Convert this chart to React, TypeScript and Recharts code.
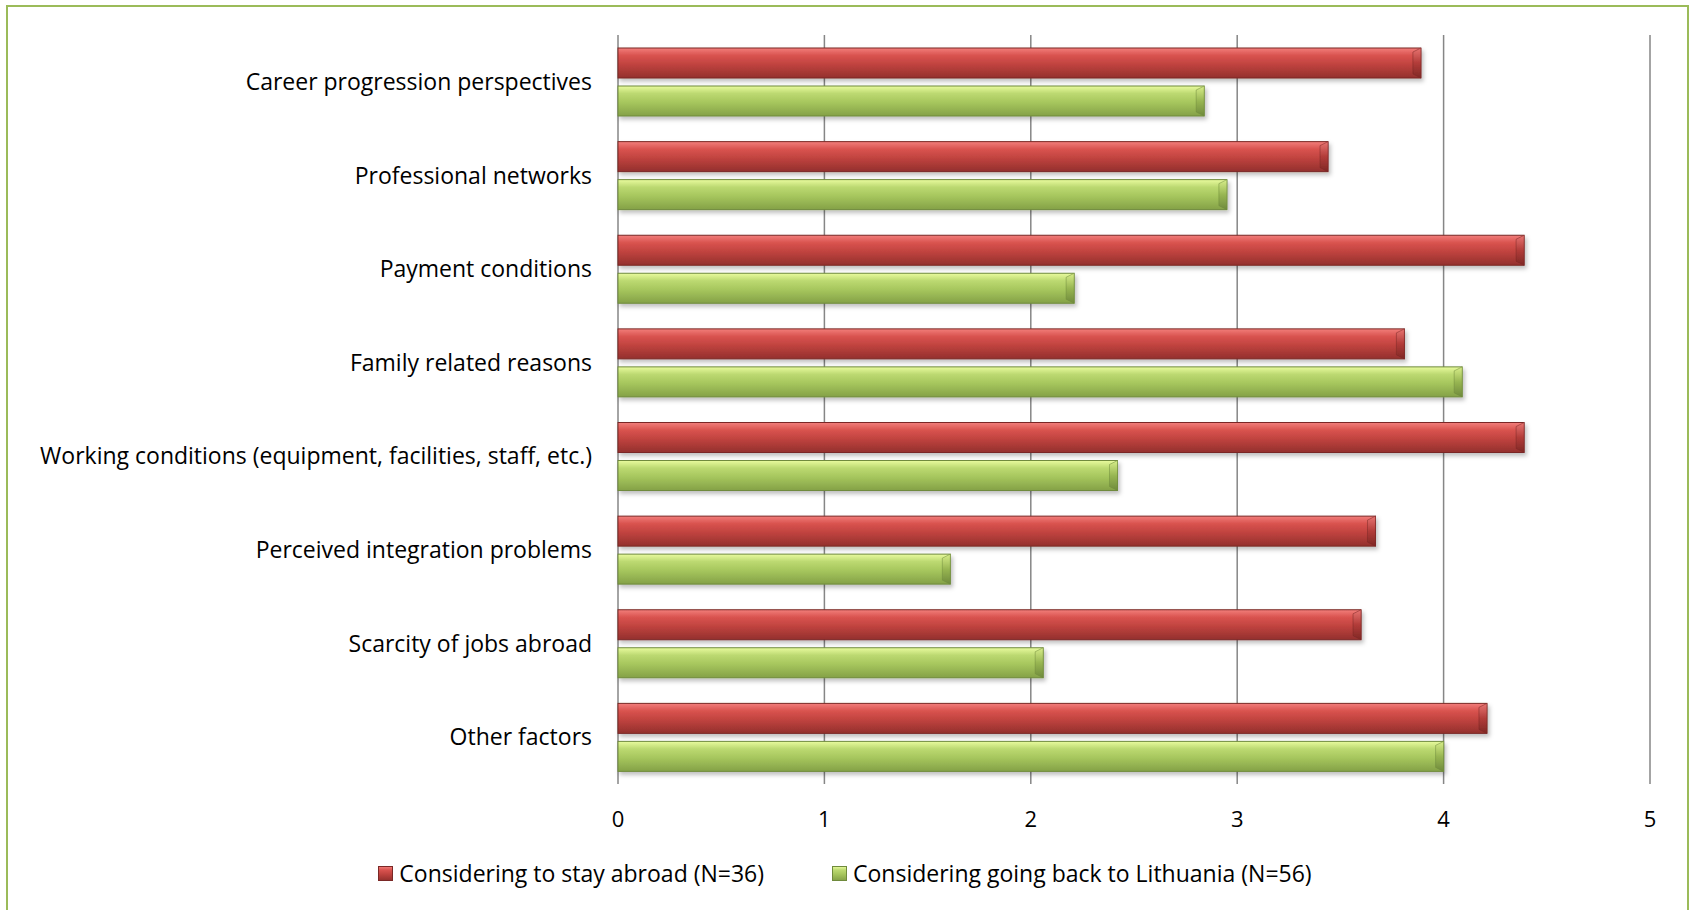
import React from "react";
import { BarChart, Bar, XAxis, YAxis, CartesianGrid, Legend } from "recharts";

const categories = [
  "Career progression perspectives",
  "Professional networks",
  "Payment conditions",
  "Family related reasons",
  "Working conditions (equipment, facilities, staff, etc.)",
  "Perceived integration problems",
  "Scarcity of jobs abroad",
  "Other factors",
];
const stayAbroad = [3.89, 3.44, 4.39, 3.81, 4.39, 3.67, 3.6, 4.21];
const goingBack = [2.84, 2.95, 2.21, 4.09, 2.42, 1.61, 2.06, 4.0];
const xTicks = [0, 1, 2, 3, 4, 5];

const data = categories.map((name, i) => ({
  name,
  stay: stayAbroad[i],
  back: goingBack[i],
}));

const FONT = "'Open Sans', sans-serif";

const palette: Record<string, { grad: string; stroke: string; cap: string }> = {
  stay: { grad: "url(#gRed)", stroke: "#7a2826", cap: "url(#gRedCap)" },
  back: { grad: "url(#gGreen)", stroke: "#6f8a3c", cap: "url(#gGreenCap)" },
};

function BevelBar(props: any) {
  const { x, y, width, height, dataKey } = props;
  if (!width || width <= 0) return null;
  const p = palette[dataKey];
  const b = 8;
  return (
    <g filter="url(#shadow)">
      <rect x={x} y={y} width={width} height={height} fill={p.grad} stroke={p.stroke} strokeWidth={1} />
      <polygon
        points={`${x + width - b},${y + b / 2} ${x + width},${y} ${x + width},${y + height} ${x + width - b},${y + height - b / 2}`}
        fill={p.cap}
        stroke={p.stroke}
        strokeWidth={0.5}
      />
    </g>
  );
}

function LegendContent() {
  const items = [
    { key: "stay", label: "Considering to stay abroad (N=36)" },
    { key: "back", label: "Considering going back to Lithuania (N=56)" },
  ];
  return (
    <div style={{ display: "flex", justifyContent: "center", gap: 68, fontFamily: FONT, fontSize: 23, color: "#000" }}>
      {items.map((it) => (
        <div key={it.key} style={{ display: "flex", alignItems: "center", gap: 6 }}>
          <svg width={15} height={15}>
            <rect x={0.5} y={0.5} width={14} height={14} fill={palette[it.key].grad} stroke={palette[it.key].stroke} />
          </svg>
          <span>{it.label}</span>
        </div>
      ))}
    </div>
  );
}

export default function App() {
  return (
    <div style={{ position: "absolute", left: 0, top: 0, width: 1690, height: 910, background: "#fff", overflow: "hidden" }}>
      <div
        style={{
          position: "absolute",
          left: 6,
          top: 5,
          width: 1683,
          height: 940,
          border: "2px solid #9bbb59",
          boxSizing: "border-box",
        }}
      />
      <div style={{ position: "absolute", left: 0, top: 0 }}>
        <BarChart
          width={1690}
          height={910}
          data={data}
          layout="vertical"
          margin={{ top: 35, right: 40, bottom: 0, left: 0 }}
          barCategoryGap="13.4%"
          barGap={8}
        >
          <defs>
            <linearGradient id="gRed" x1="0" y1="0" x2="0" y2="1">
              <stop offset="0%" stopColor="#f27e7b" />
              <stop offset="25%" stopColor="#d9534f" />
              <stop offset="55%" stopColor="#c0433f" />
              <stop offset="100%" stopColor="#93302d" />
            </linearGradient>
            <linearGradient id="gRedCap" x1="0" y1="0" x2="0" y2="1">
              <stop offset="0%" stopColor="#e87572" />
              <stop offset="50%" stopColor="#b23c39" />
              <stop offset="100%" stopColor="#7f2825" />
            </linearGradient>
            <linearGradient id="gGreen" x1="0" y1="0" x2="0" y2="1">
              <stop offset="0%" stopColor="#e9fb9e" />
              <stop offset="25%" stopColor="#bcd971" />
              <stop offset="55%" stopColor="#a6c65d" />
              <stop offset="100%" stopColor="#84a147" />
            </linearGradient>
            <linearGradient id="gGreenCap" x1="0" y1="0" x2="0" y2="1">
              <stop offset="0%" stopColor="#d8ee8a" />
              <stop offset="50%" stopColor="#98b652" />
              <stop offset="100%" stopColor="#6f8a3c" />
            </linearGradient>
            <filter id="shadow" x="-5%" y="-30%" width="110%" height="180%">
              <feDropShadow dx={2} dy={3} stdDeviation={2} floodColor="#000" floodOpacity={0.25} />
            </filter>
          </defs>
          <CartesianGrid horizontal={false} vertical stroke="#868686" strokeWidth={1.5} />
          <XAxis
            type="number"
            domain={[0, 5]}
            ticks={xTicks}
            axisLine={false}
            tickLine={false}
            tickSize={0}
            tickMargin={27}
            height={126}
            tick={{ fill: "#000", fontFamily: FONT, fontSize: 22 }}
          />
          <YAxis
            type="category"
            dataKey="name"
            width={618}
            axisLine={false}
            tickLine={false}
            tickSize={0}
            tickMargin={26}
            interval={0}
            tick={{ fill: "#000", fontFamily: FONT, fontSize: 23 }}
          />
          <Legend
            layout="horizontal"
            verticalAlign="middle"
            align="center"
            wrapperStyle={{ top: 857, left: 0, width: 1690 }}
            content={<LegendContent />}
          />
          <Bar dataKey="stay" name="Considering to stay abroad (N=36)" barSize={30} shape={<BevelBar />} isAnimationActive={false} />
          <Bar dataKey="back" name="Considering going back to Lithuania (N=56)" barSize={30} shape={<BevelBar />} isAnimationActive={false} />
        </BarChart>
      </div>
    </div>
  );
}
